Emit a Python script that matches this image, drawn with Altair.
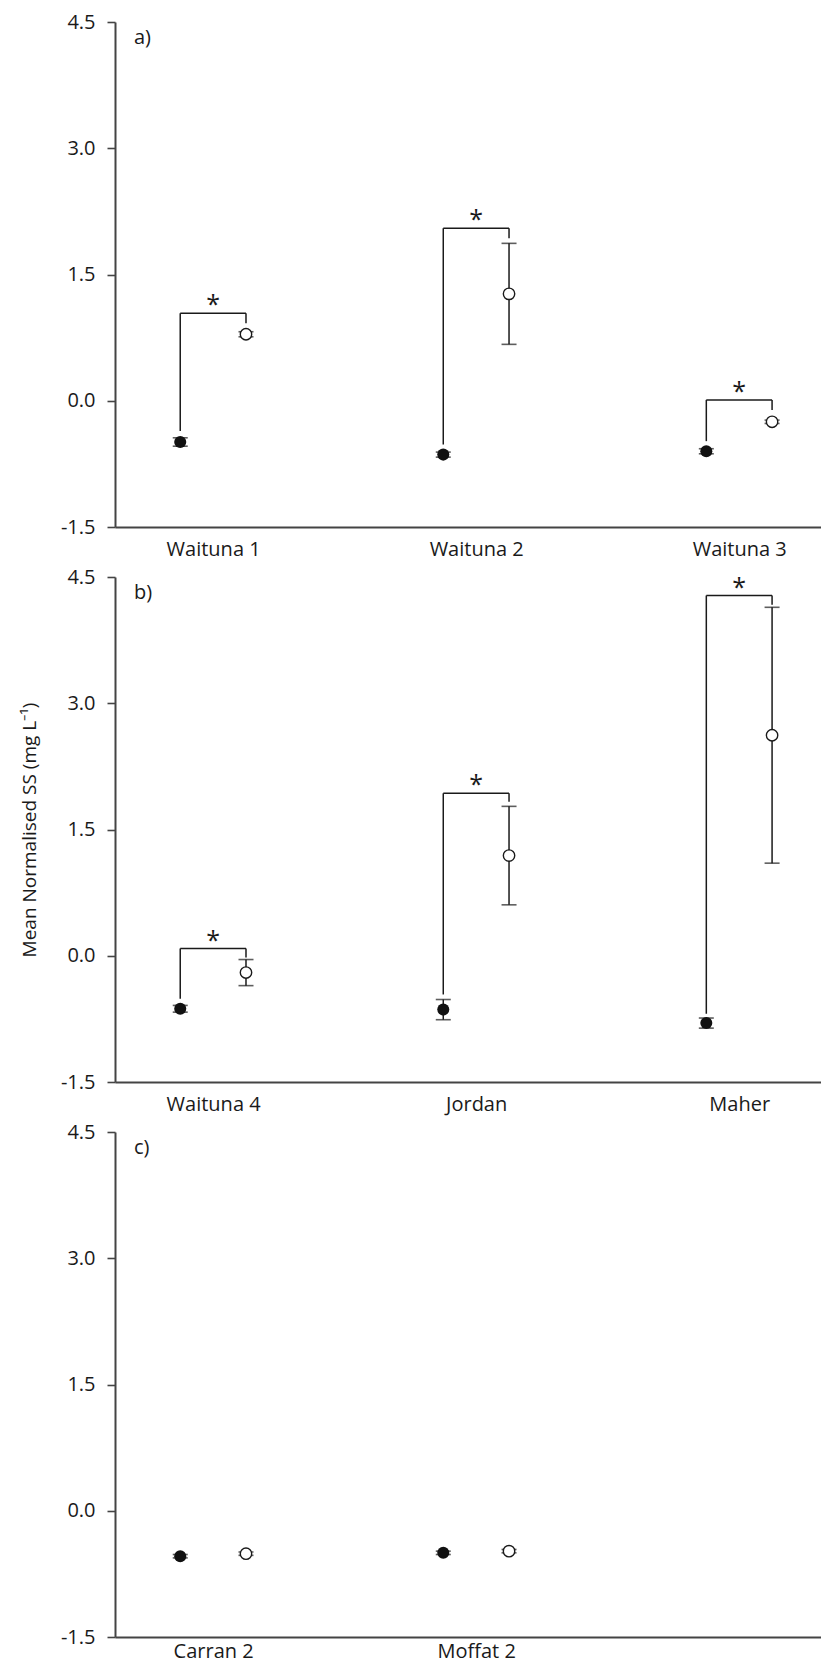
import altair as alt
import pandas as pd

FONT = "Open Sans"

# ---- data ----
sites_a = ["Waituna 1", "Waituna 2", "Waituna 3"]
ctrl_mean_a = [-0.49, -0.64, -0.60]
ctrl_se_a = [0.05, 0.03, 0.03]
trt_mean_a = [0.79, 1.27, -0.25]
trt_se_a = [0.03, 0.60, 0.02]
sig_a = [True, True, True]
brk_top_a = [1.04, 2.05, 0.01]
brk_left_a = [-0.36, -0.52, -0.48]
brk_right_a = [0.92, 1.93, -0.11]

sites_b = ["Waituna 4", "Jordan", "Maher"]
ctrl_mean_b = [-0.63, -0.64, -0.80]
ctrl_se_b = [0.04, 0.12, 0.06]
trt_mean_b = [-0.20, 1.19, 2.62]
trt_se_b = [0.155, 0.585, 1.52]
sig_b = [True, True, True]
brk_top_b = [0.085, 1.93, 4.28]
brk_left_b = [-0.51, -0.46, -0.69]
brk_right_b = [-0.02, 1.83, 4.17]

sites_c = ["Carran 2", "Moffat 2"]
ctrl_mean_c = [-0.54, -0.50]
ctrl_se_c = [0.02, 0.02]
trt_mean_c = [-0.51, -0.48]
trt_se_c = [0.02, 0.02]
sig_c = [False, False]
brk_top_c = [0.0, 0.0]
brk_left_c = [0.0, 0.0]
brk_right_c = [0.0, 0.0]

panel_labels = ["a)", "b)", "c)"]
y_ticks = [-1.5, 0.0, 1.5, 3.0, 4.5]
y_title = "Mean Normalised SS (mg L\u207b\u00b9)"

OFF = 0.125
XDOM = [-0.373, 2.311]
YDOM = [-1.5, 4.5]
INK = "#1a1a1a"
AXC = "#444444"
W, H = 706, 505
YLAB = "replace(format(datum.value, '.1f'), '\u2212', '-')"


def panel(sites, cm, cse, tm, tse, sig, top, lft, rgt, label, title, xpad):
    rows = []
    for i in range(len(sites)):
        rows.append(dict(x=i - OFF, m=cm[i], lo=cm[i] - cse[i], hi=cm[i] + cse[i], g="ctrl"))
        rows.append(dict(x=i + OFF, m=tm[i], lo=tm[i] - tse[i], hi=tm[i] + tse[i], g="trt"))
    pts = pd.DataFrame(rows)
    brk = pd.DataFrame([
        dict(xf=i - OFF, xo=i + OFF, xm=i, top=top[i], lb=lft[i], rb=rgt[i], star="*")
        for i in range(len(sites)) if sig[i]
    ])
    labexpr = " : ".join(
        [f"datum.value == {i} ? '{s}'" for i, s in enumerate(sites)]
    ) + " : ''"
    xs = alt.Scale(domain=XDOM, nice=False, zero=False)
    ys = alt.Scale(domain=YDOM, nice=False, zero=False)
    xax = alt.Axis(values=list(range(len(sites))), labelExpr=labexpr, ticks=False,
                   tickSize=0, grid=False, title=None, labelPadding=xpad)
    if title:
        yax = alt.Axis(values=y_ticks, labelExpr=YLAB, grid=False, tickSize=8,
                       labelPadding=12, title=title, titlePadding=21,
                       titleFontSize=19, titleFont=FONT,
                       titleFontWeight="normal", titleColor=INK)
    else:
        yax = alt.Axis(values=y_ticks, labelExpr=YLAB, grid=False, tickSize=8,
                       labelPadding=12, title=None)

    base = alt.Chart(pts)
    err = base.mark_rule(color=INK, strokeWidth=1.5).encode(
        x=alt.X("x:Q", scale=xs, axis=xax),
        y=alt.Y("lo:Q", scale=ys, axis=yax),
        y2="hi:Q",
    )
    cap_lo = base.mark_tick(orient="horizontal", size=15, thickness=1.6, color=INK).encode(
        x=alt.X("x:Q", scale=xs), y=alt.Y("lo:Q", scale=ys))
    cap_hi = base.mark_tick(orient="horizontal", size=15, thickness=1.6, color=INK).encode(
        x=alt.X("x:Q", scale=xs), y=alt.Y("hi:Q", scale=ys))
    dots_f = base.transform_filter("datum.g == 'ctrl'").mark_point(
        shape="circle", filled=True, size=145, color="#111111", opacity=1).encode(
        x=alt.X("x:Q", scale=xs), y=alt.Y("m:Q", scale=ys))
    dots_o = base.transform_filter("datum.g == 'trt'").mark_point(
        shape="circle", filled=True, size=130, fill="white", stroke=INK,
        strokeWidth=1.4, opacity=1).encode(
        x=alt.X("x:Q", scale=xs), y=alt.Y("m:Q", scale=ys))

    layers = [err, cap_lo, cap_hi]
    if len(brk):
        b = alt.Chart(brk)
        leg_l = b.mark_rule(color=INK, strokeWidth=1.5).encode(
            x=alt.X("xf:Q", scale=xs), y=alt.Y("lb:Q", scale=ys), y2="top:Q")
        leg_r = b.mark_rule(color=INK, strokeWidth=1.5).encode(
            x=alt.X("xo:Q", scale=xs), y=alt.Y("rb:Q", scale=ys), y2="top:Q")
        bar = b.mark_rule(color=INK, strokeWidth=1.5).encode(
            x=alt.X("xf:Q", scale=xs), x2="xo:Q", y=alt.Y("top:Q", scale=ys))
        star = b.mark_text(font=FONT, fontSize=25, color=INK, baseline="middle",
                           dy=-8).encode(
            x=alt.X("xm:Q", scale=xs), y=alt.Y("top:Q", scale=ys), text="star:N")
        layers += [leg_l, leg_r, bar, star]
    layers += [dots_f, dots_o]

    lab = alt.Chart(pd.DataFrame(dict(x=[XDOM[0]], y=[YDOM[1]], t=[label]))).mark_text(
        font=FONT, fontSize=20, color=INK, align="left", baseline="top", dx=19, dy=6
    ).encode(x=alt.X("x:Q", scale=xs), y=alt.Y("y:Q", scale=ys), text="t:N")
    layers.append(lab)

    return alt.layer(*layers).properties(width=W, height=H)


pa = panel(sites_a, ctrl_mean_a, ctrl_se_a, trt_mean_a, trt_se_a, sig_a,
           brk_top_a, brk_left_a, brk_right_a, panel_labels[0], None, 12)
pb = panel(sites_b, ctrl_mean_b, ctrl_se_b, trt_mean_b, trt_se_b, sig_b,
           brk_top_b, brk_left_b, brk_right_b, panel_labels[1], y_title, 12)
pc = panel(sites_c, ctrl_mean_c, ctrl_se_c, trt_mean_c, trt_se_c, sig_c,
           brk_top_c, brk_left_c, brk_right_c, panel_labels[2], None, 4)

chart = alt.vconcat(pa, pb, pc, spacing=50, bounds="flush").properties(
    padding={"left": 12, "top": 4, "right": 0, "bottom": 3}
).configure_view(stroke=None).configure_axis(
    domainColor=AXC, domainWidth=2, tickColor=AXC, tickWidth=1.6,
    labelFont=FONT, labelFontSize=20, labelColor=INK,
)

chart.save("out.html", embed_options={"renderer": "svg", "actions": False})
